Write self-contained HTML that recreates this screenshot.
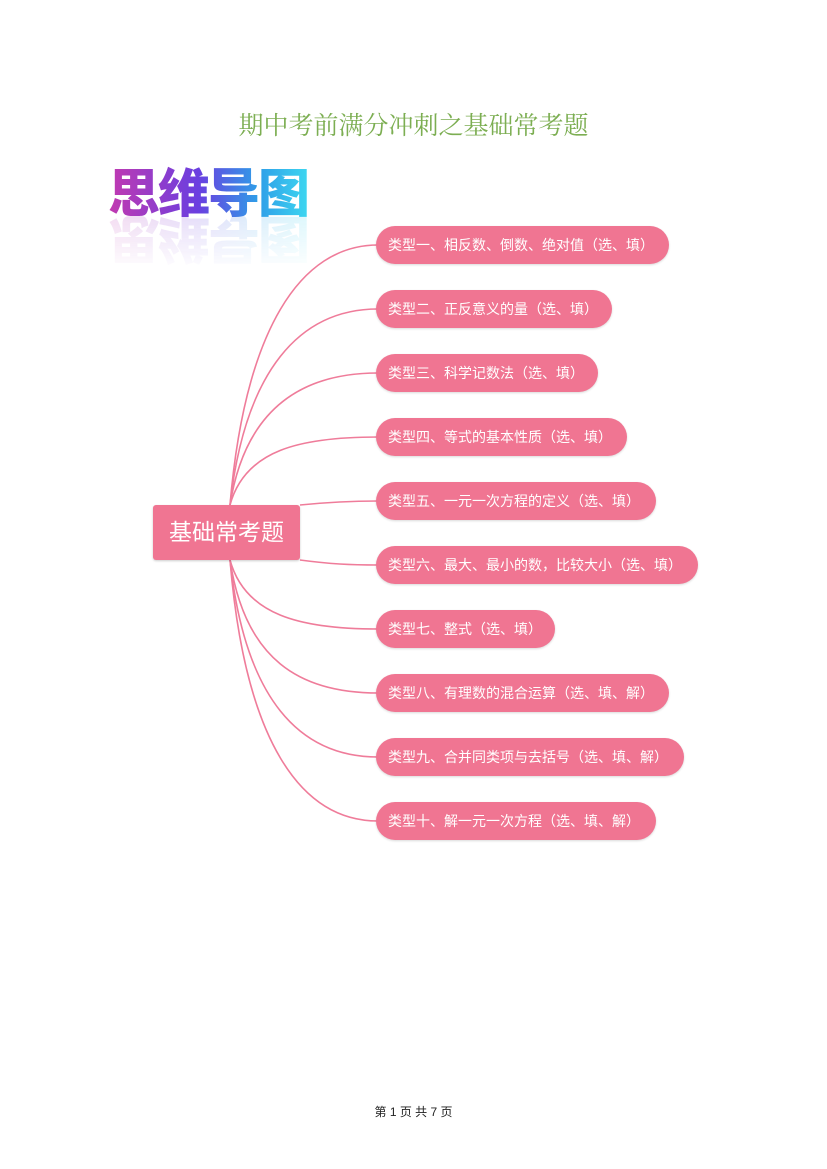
<!DOCTYPE html>
<html><head><meta charset="utf-8"><style>
body{margin:0;width:827px;height:1169px;background:#fff;position:relative;font-family:"Liberation Sans","Noto Sans CJK SC",sans-serif;overflow:hidden}
.t{position:absolute;top:106px;left:0;width:827px;text-align:center;font-family:"Liberation Serif","Noto Serif CJK SC",serif;font-size:25px;color:#7cae52}
.logo{position:absolute;left:108px;top:160px;font-size:52px;font-weight:900;letter-spacing:-2px;background:linear-gradient(90deg,#c23ab0,#6a3ee0 45%,#2f9ee8 75%,#3dd6f0);-webkit-background-clip:text;background-clip:text;color:transparent;line-height:60px;font-family:"Noto Sans CJK SC",sans-serif}
.refl{position:absolute;left:108px;top:212px;font-size:52px;font-weight:900;letter-spacing:-2px;line-height:60px;transform:scaleY(-1);opacity:.18;background:linear-gradient(90deg,#c23ab0,#6a3ee0 45%,#2f9ee8 75%,#3dd6f0);-webkit-background-clip:text;background-clip:text;color:transparent;font-family:"Noto Sans CJK SC",sans-serif;-webkit-mask-image:linear-gradient(to top,#000,transparent);}
.c{position:absolute;left:153px;top:505px;width:147px;height:55px;background:#f07592;border-radius:3px;color:#fff;font-size:23px;line-height:55px;text-align:center;box-shadow:0 1px 2px rgba(0,0,0,.2)}
.p{position:absolute;left:376px;height:38px;background:#f07592;border-radius:19px;color:#fff;font-size:14px;line-height:38px;padding-left:12px;box-sizing:border-box;box-shadow:0 1px 2px rgba(0,0,0,.15)}
.f{position:absolute;top:1103px;width:827px;text-align:center;font-size:12px;color:#222}
</style></head><body>
<div class="t">期中考前满分冲刺之基础常考题</div>
<div class="logo">思维导图</div>
<div class="refl">思维导图</div>
<svg width="827" height="1169" style="position:absolute;left:0;top:0" fill="none" stroke="#ef7c9a" stroke-width="1.6">
<path d="M230,505 C245,330 300,245 378,245"/>
<path d="M230,505 C245,370 300,309 378,309"/>
<path d="M230,505 C245,410 300,373 378,373"/>
<path d="M230,505 C245,450 300,437 378,437"/>
<path d="M300,505 C330,502 350,501 378,501"/>
<path d="M300,560 C330,564 350,565 378,565"/>
<path d="M230,560 C245,615 300,629 378,629"/>
<path d="M230,560 C245,660 300,693 378,693"/>
<path d="M230,560 C245,700 300,757 378,757"/>
<path d="M230,560 C245,740 300,821 378,821"/>
</svg>
<div class="c">基础常考题</div>
<div class="p" style="top:226px;width:293px">类型一、相反数、倒数、绝对值（选、填）</div>
<div class="p" style="top:290px;width:236px">类型二、正反意义的量（选、填）</div>
<div class="p" style="top:354px;width:222px">类型三、科学记数法（选、填）</div>
<div class="p" style="top:418px;width:251px">类型四、等式的基本性质（选、填）</div>
<div class="p" style="top:482px;width:280px">类型五、一元一次方程的定义（选、填）</div>
<div class="p" style="top:546px;width:322px">类型六、最大、最小的数，比较大小（选、填）</div>
<div class="p" style="top:610px;width:179px">类型七、整式（选、填）</div>
<div class="p" style="top:674px;width:293px">类型八、有理数的混合运算（选、填、解）</div>
<div class="p" style="top:738px;width:308px">类型九、合并同类项与去括号（选、填、解）</div>
<div class="p" style="top:802px;width:280px">类型十、解一元一次方程（选、填、解）</div>
<div class="f">第 1 页 共 7 页</div>
</body></html>
